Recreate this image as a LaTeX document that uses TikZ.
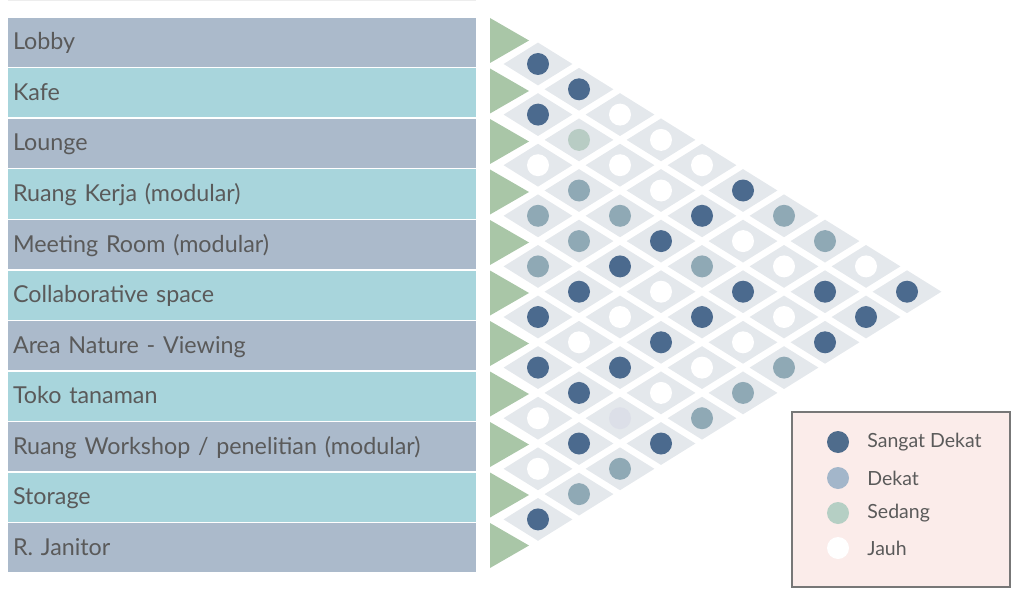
\documentclass[tikz,border=0pt]{standalone}
\usepackage{fontspec}
\setmainfont{Lato}
\usepackage{xcolor}
\usetikzlibrary{shapes.geometric, positioning}

\definecolor{rowA}{HTML}{ABBACB}
\definecolor{rowB}{HTML}{A8D5DC}
\definecolor{txtgrey}{HTML}{5A5A5A}
\definecolor{trigreen}{HTML}{A9C6A7}
\definecolor{cellgrey}{HTML}{E4E8EC}
\definecolor{dotdark}{HTML}{4B6A8E}
\definecolor{dotlight}{HTML}{8FA9B5}
\definecolor{dotmid}{HTML}{B8CCC4}
\definecolor{dotnone}{HTML}{DCDFE8}
\definecolor{legdark}{HTML}{4F6C8C}
\definecolor{leglight}{HTML}{A3B6CA}
\definecolor{legmid}{HTML}{B5CFC4}
\definecolor{legfill}{HTML}{FBECEA}
\definecolor{legline}{HTML}{777777}

\begin{document}
\begin{tikzpicture}[
    x=1pt, y=-1pt,
    rowbox/.style = {
      rectangle, text width=458pt, align=left,
      minimum height=49pt, inner xsep=5pt, inner ysep=0pt,
      text height=18pt, text depth=3pt,
      font=\fontsize{23.3}{27}\selectfont, text=txtgrey
    },
    tri/.style   = {fill=trigreen},
    cell/.style  = {diamond, fill=cellgrey, minimum width=69pt,
                    minimum height=43pt, inner sep=0pt},
    dot/.style   = {circle, minimum size=22pt, inner sep=0pt},
    cdark/.style  = {dot, fill=dotdark},
    clight/.style = {dot, fill=dotlight},
    cmid/.style   = {dot, fill=dotmid},
    cfar/.style   = {dot, fill=white},
    cnone/.style  = {dot, fill=dotnone},
    legbox/.style = {rectangle, draw=legline, line width=2pt, fill=legfill,
                     minimum width=218pt, minimum height=175pt},
    ldot/.style   = {circle, minimum size=22pt, inner sep=0pt},
    ldark/.style  = {ldot, fill=legdark},
    llight/.style = {ldot, fill=leglight},
    lmid/.style   = {ldot, fill=legmid},
    lfar/.style   = {ldot, fill=white},
    legtext/.style = {inner sep=0pt, text=txtgrey,
                      font=\fontsize{19.5}{23}\selectfont},
  ]
  \useasboundingbox (0,0) rectangle (1032,596);
  \draw[line width=1pt, black!7] (8,1) -- (476,1);

  % room list and green markers
  \foreach \name [count=\k from 0] in {Lobby, Kafe, Lounge,
      Ruang Kerja (modular), Meeting Room (modular), Collaborative space,
      Area Nature - Viewing, Toko tanaman,
      {Ruang Workshop / penelitian (modular)}, Storage, R. Janitor} {
    \ifodd\k \def\rowcol{rowB}\else\def\rowcol{rowA}\fi
    \node[rowbox, fill=\rowcol] (r\k) at (242, 42.5+50.5*\k) {\name};
    \fill[tri] (490, 18+50.5*\k) -- ++(0,45) -- ++(39,-22.5) -- cycle;
  }

  % relation matrix
  \foreach \i/\j/\kind in {
      0/1/cdark, 0/2/cdark, 0/3/cfar, 0/4/cfar, 0/5/cfar, 0/6/cdark,
      0/7/clight, 0/8/clight, 0/9/cfar, 0/10/cdark,
      1/2/cdark, 1/3/cmid, 1/4/cfar, 1/5/cfar, 1/6/cdark, 1/7/cfar,
      1/8/cfar, 1/9/cdark, 1/10/cdark,
      2/3/cfar, 2/4/clight, 2/5/clight, 2/6/cdark, 2/7/clight, 2/8/cdark,
      2/9/cfar, 2/10/cdark,
      3/4/clight, 3/5/clight, 3/6/cdark, 3/7/cfar, 3/8/cdark, 3/9/cfar,
      3/10/clight,
      4/5/clight, 4/6/cdark, 4/7/cfar, 4/8/cdark, 4/9/cfar, 4/10/clight,
      5/6/cdark, 5/7/cfar, 5/8/cdark, 5/9/cfar, 5/10/clight,
      6/7/cdark, 6/8/cdark, 6/9/cnone, 6/10/cdark,
      7/8/cfar, 7/9/cdark, 7/10/clight,
      8/9/cfar, 8/10/clight,
      9/10/cdark} {
    \pgfmathsetmacro\cx{538+41*(\j-\i-1)}
    \pgfmathsetmacro\cy{64+25.3*(\i+\j-1)}
    \node[cell] (c\i-\j) at (\cx,\cy) {};
    \node[\kind] (p\i-\j) at (c\i-\j) {};
  }

  % legend
  \node[legbox] (legend) at (901,499.5) {};
  \foreach \lab/\kind/\yy [count=\n] in {Sangat Dekat/ldark/442,
      Dekat/llight/478, Sedang/lmid/513, Jauh/lfar/548} {
    \node[\kind] (k\n) at (838,\yy) {};
    \node[legtext, right=18pt of k\n] (t\n) {\lab};
  }
\end{tikzpicture}
\end{document}
